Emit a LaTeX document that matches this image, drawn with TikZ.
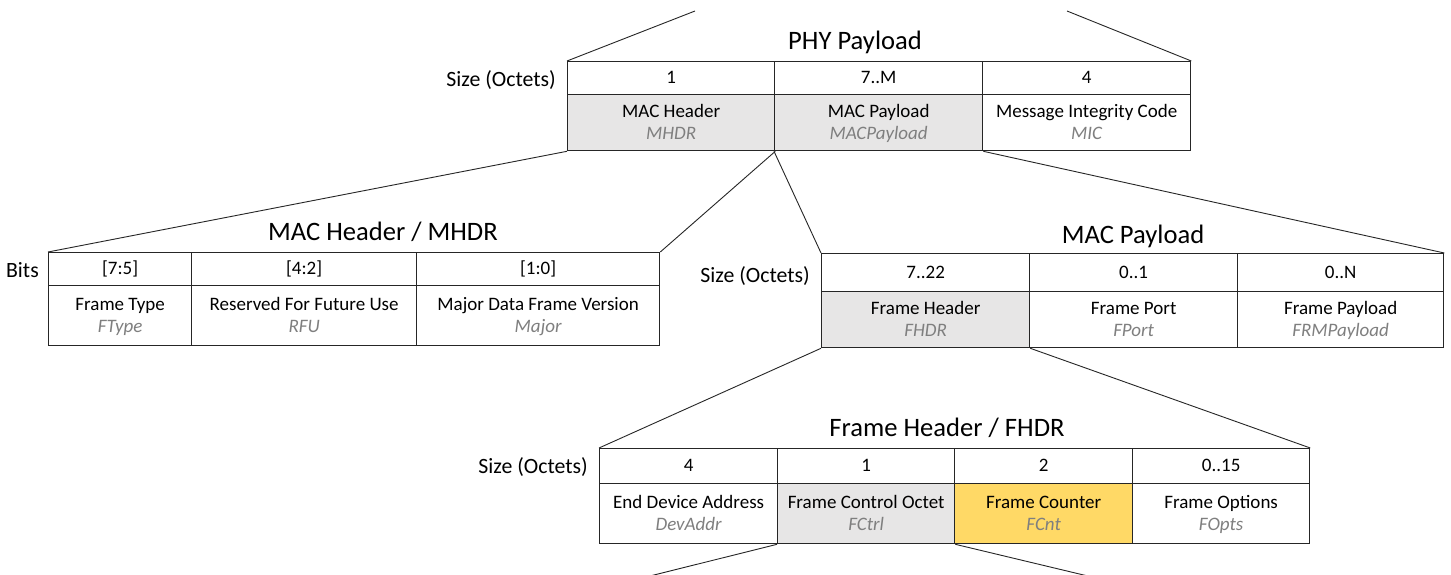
\documentclass[tikz,border=0pt]{standalone}
\usepackage{fontspec}
\setmainfont{Carlito}
\definecolor{cellgrey}{HTML}{E7E6E6}
\definecolor{cellyellow}{HTML}{FFD966}
\definecolor{abbrgrey}{HTML}{7F7F7F}
\definecolor{linecol}{HTML}{262626}
\newcommand{\cellfont}{\fontsize{19}{22}\selectfont}
\newcommand{\abbr}[1]{\textit{\color{abbrgrey}#1}}
\newcommand{\mystrut}{\rule[-4pt]{0pt}{19pt}}
\newcommand{\twoline}[2]{#1\mystrut\\\abbr{#2}\mystrut}
\tikzset{
  cellbox/.style={draw=linecol, line width=1.3pt, anchor=north west, inner sep=0pt,
    align=center, font=\cellfont},
  greycell/.style={cellbox, fill=cellgrey},
  yellowcell/.style={cellbox, fill=cellyellow},
  titletext/.style={font=\fontsize{26.6}{30}\selectfont, inner sep=0pt},
  sidetext/.style={font=\fontsize{21.8}{25}\selectfont, inner sep=0pt, anchor=east},
  conn/.style={draw=linecol, line width=0.9pt},
}
\begin{document}
\begin{tikzpicture}[x=1pt,y=-1pt]
\useasboundingbox[fill=white] (0,0) rectangle (1451,575);

% ---------- PHY Payload ----------
\node[titletext] (phyTitle) at (855,42) {PHY Payload};
\node[sidetext] (phySize) at (556,80) {Size (Octets)};
\node[cellbox, minimum width=207pt, minimum height=33pt] (phyS1) at (567,61) {1\mystrut};
\node[cellbox, minimum width=208pt, minimum height=33pt] (phyS2) at (774,61) {7..M\mystrut};
\node[cellbox, minimum width=208pt, minimum height=33pt] (phyS3) at (982,61) {4\mystrut};
\node[greycell, minimum width=207pt, minimum height=56pt] (phyD1) at (567,94) {\twoline{MAC Header}{MHDR}};
\node[greycell, minimum width=208pt, minimum height=56pt] (phyD2) at (774,94) {\twoline{MAC Payload}{MACPayload}};
\node[cellbox, minimum width=208pt, minimum height=56pt] (phyD3) at (982,94) {\twoline{Message Integrity Code}{MIC}};
\coordinate (topL) at (695,11);
\coordinate (topR) at (1067,11);
\draw[conn] (phyS1.north west) -- (topL);
\draw[conn] (phyS3.north east) -- (topR);

% ---------- MAC Header / MHDR ----------
\node[titletext] (mhdrTitle) at (383,232) {MAC Header / MHDR};
\node[sidetext] (mhdrBits) at (39,270) {Bits};
\node[cellbox, minimum width=143pt, minimum height=33pt] (mhdrS1) at (48,252) {[7:5]\mystrut};
\node[cellbox, minimum width=225pt, minimum height=33pt] (mhdrS2) at (191,252) {[4:2]\mystrut};
\node[cellbox, minimum width=243pt, minimum height=33pt] (mhdrS3) at (416,252) {[1:0]\mystrut};
\node[cellbox, minimum width=143pt, minimum height=60pt] (mhdrD1) at (48,285) {\twoline{Frame Type}{FType}};
\node[cellbox, minimum width=225pt, minimum height=60pt] (mhdrD2) at (191,285) {\twoline{Reserved For Future Use}{RFU}};
\node[cellbox, minimum width=243pt, minimum height=60pt] (mhdrD3) at (416,285) {\twoline{Major Data Frame Version}{Major}};
\draw[conn] (phyD1.south west) -- (mhdrS1.north west);
\draw[conn] (phyD1.south east) -- (mhdrS3.north east);

% ---------- MAC Payload ----------
\node[titletext] (macTitle) at (1133,236) {MAC Payload};
\node[sidetext] (macSize) at (810,276) {Size (Octets)};
\node[cellbox, minimum width=208pt, minimum height=38pt] (macS1) at (821,253) {7..22\mystrut};
\node[cellbox, minimum width=208pt, minimum height=38pt] (macS2) at (1029,253) {0..1\mystrut};
\node[cellbox, minimum width=206pt, minimum height=38pt] (macS3) at (1237,253) {0..N\mystrut};
\node[greycell, minimum width=208pt, minimum height=56pt] (macD1) at (821,291) {\twoline{Frame Header}{FHDR}};
\node[cellbox, minimum width=208pt, minimum height=56pt] (macD2) at (1029,291) {\twoline{Frame Port}{FPort}};
\node[cellbox, minimum width=206pt, minimum height=56pt] (macD3) at (1237,291) {\twoline{Frame Payload}{FRMPayload}};
\draw[conn] (phyD2.south west) -- (macS1.north west);
\draw[conn] (phyD2.south east) -- (macS3.north east);

% ---------- Frame Header / FHDR ----------
\node[titletext] (fhdrTitle) at (947,428) {Frame Header / FHDR};
\node[sidetext] (fhdrSize) at (588,467) {Size (Octets)};
\node[cellbox, minimum width=178pt, minimum height=35pt] (fhdrS1) at (599,448) {4\mystrut};
\node[cellbox, minimum width=177pt, minimum height=35pt] (fhdrS2) at (777,448) {1\mystrut};
\node[cellbox, minimum width=178pt, minimum height=35pt] (fhdrS3) at (954,448) {2\mystrut};
\node[cellbox, minimum width=177pt, minimum height=35pt] (fhdrS4) at (1132,448) {0..15\mystrut};
\node[cellbox, minimum width=178pt, minimum height=60pt] (fhdrD1) at (599,483) {\twoline{End Device Address}{DevAddr}};
\node[greycell, minimum width=177pt, minimum height=60pt] (fhdrD2) at (777,483) {\twoline{Frame Control Octet}{FCtrl}};
\node[yellowcell, minimum width=178pt, minimum height=60pt] (fhdrD3) at (954,483) {\twoline{Frame Counter}{FCnt}};
\node[cellbox, minimum width=177pt, minimum height=60pt] (fhdrD4) at (1132,483) {\twoline{Frame Options}{FOpts}};
\draw[conn] (macD1.south west) -- (fhdrS1.north west);
\draw[conn] (macD1.south east) -- (fhdrS4.north east);

\coordinate (botL) at (646,577);
\coordinate (botR) at (1092,577);
\draw[conn] (fhdrD2.south west) -- (botL);
\draw[conn] (fhdrD2.south east) -- (botR);
\end{tikzpicture}
\end{document}
